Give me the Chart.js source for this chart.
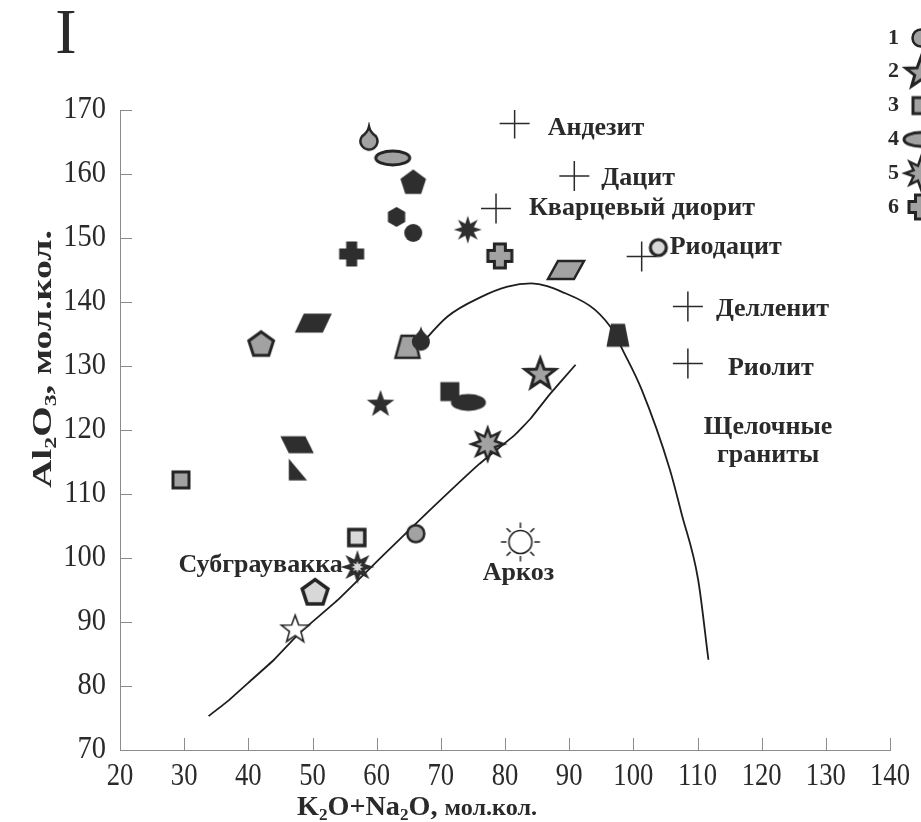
<!DOCTYPE html>
<html>
<head>
<meta charset="utf-8">
<script src="https://cdn.jsdelivr.net/npm/chart.js@4.4.1/dist/chart.umd.min.js"></script>
<style>
  html, body { margin: 0; padding: 0; background: #fff; }
  #wrap { width: 921px; height: 822px; position: relative; }
</style>
</head>
<body>
<div id="wrap"><canvas id="chart"></canvas></div>
<script>
// axis ticks
const xTicks = [20, 30, 40, 50, 60, 70, 80, 90, 100, 110, 120, 130, 140];
const yTicks = [70, 80, 90, 100, 110, 120, 130, 140, 150, 160, 170];

// lower boundary line (subgraywacke - arkose)
const lowerX = [33.8, 37, 40, 44, 48, 54, 61, 68, 76, 81.5, 84, 87, 91];
const lowerY = [75.3, 77.8, 80.5, 84.1, 88.3, 93.5, 100.4, 107.2, 114.7, 119.2, 121.8, 125.6, 130.2];

// upper hump line
const humpX = [66.4, 71, 76.3, 80.4, 84.1, 89.3, 94, 97.1, 98.1, 101.3, 105.7, 107.5, 110.1, 111.7];
const humpY = [132.8, 137.7, 140.8, 142.4, 142.9, 141.4, 138.8, 135.1, 133, 126.3, 113.8, 107, 96.6, 84.1];

// reference rocks (+)
const rockNames = ['Андезит', 'Дацит', 'Кварцевый диорит', 'Риодацит', 'Делленит', 'Риолит'];
const rockX = [81.5, 90.8, 78.6, 101.3, 108.5, 108.5];
const rockY = [167.9, 159.7, 154.6, 147.1, 139.3, 130.4];

// samples
const sampleX = [58.8, 62.5, 65.7, 63.1, 65.7, 56.1, 74.2, 79.2, 89.5, 103.9, 50.2, 42.0, 64.8, 66.9, 97.6,
                 85.5, 71.4, 74.3, 60.6, 77.3, 47.6, 47.6, 29.5, 56.9, 66.1, 57.0, 50.4, 47.3, 82.4];
const sampleY = [165.6, 162.5, 158.8, 153.3, 150.8, 147.5, 151.3, 147.2, 145.0, 148.5, 136.7, 133.5, 133.0, 134.3, 134.8,
                 128.9, 126.0, 124.3, 124.2, 117.8, 117.7, 113.8, 112.2, 103.2, 103.8, 98.6, 94.7, 89.0, 102.5];

// field names
const fieldNames = ['Субграувакка', 'Аркоз', 'Щелочные', 'граниты'];
const fieldX = [29.1, 82.1, 121.0, 121.0];
const fieldY = [98.9, 97.6, 120.5, 116.1];

const legendNums = ['1', '2', '3', '4', '5', '6'];

// ---- styles ----
const sampleShape = ['dropGray', 'ellipseGray', 'pentBlack', 'hexBlack', 'circleBlack', 'crossBlack', 'star8Black',
  'crossGray', 'paraGray', 'ringLight', 'paraBlack', 'pentGray', 'trapGray', 'dropBlack', 'trapBlack',
  'star5Gray', 'squareBlack', 'ellipseBlack', 'star5Black', 'star8Gray', 'paraBlackR', 'triBlack',
  'squareGray', 'squareLight', 'circleGray', 'star8BlackC', 'pentLight', 'star5White', 'sun'];
const legendShape = ['circleGray', 'star5Gray', 'squareGray', 'ellipseGray', 'star8Gray', 'crossGray'];
const rockLabelDx = [33, 27, 33, 28, 28, 40];
const rockLabelDy = [5, 2, 0, -9, 3, 5];
const fieldAlign = ['left', 'center', 'center', 'center'];

const DARK = '#2e2e2e', GRAY = '#a2a2a2', LIGHT = '#d8d8d8', EDGE = '#242424', INK = '#2a2a2a';
const SERIF = '"Liberation Serif", "Times New Roman", serif';

function makeIcon(w, h, draw) {
  const c = document.createElement('canvas');
  c.width = w; c.height = h;
  const g = c.getContext('2d');
  g.translate(w / 2, h / 2);
  draw(g);
  return c;
}
function paint(g, fill, lw) {
  g.fillStyle = fill;
  g.fill();
  if (lw) { g.lineWidth = lw; g.strokeStyle = EDGE; g.lineJoin = 'miter'; g.stroke(); }
}
function poly(g, pts) {
  g.beginPath();
  pts.forEach((p, i) => i ? g.lineTo(p[0], p[1]) : g.moveTo(p[0], p[1]));
  g.closePath();
}
function ngon(n, r, dy) {
  const pts = [];
  for (let i = 0; i < n; i++) {
    const a = -Math.PI / 2 + i * 2 * Math.PI / n;
    pts.push([r * Math.cos(a), r * Math.sin(a) + dy]);
  }
  return pts;
}
function starPts(n, ro, ri, dy) {
  const pts = [];
  for (let i = 0; i < 2 * n; i++) {
    const a = -Math.PI / 2 + i * Math.PI / n;
    const r = i % 2 ? ri : ro;
    pts.push([r * Math.cos(a), r * Math.sin(a) + dy]);
  }
  return pts;
}
function drop(g, r) {
  const cy = r * 0.35, tip = -r * 1.35;
  const t = -35 * Math.PI / 180;
  g.beginPath();
  g.moveTo(0, tip);
  g.quadraticCurveTo(r * 0.15, tip * 0.5, r * Math.cos(t), cy + r * Math.sin(t));
  g.arc(0, cy, r, t, Math.PI - t);
  g.quadraticCurveTo(-r * 0.15, tip * 0.5, 0, tip);
  g.closePath();
}
function crossPath(g, len, arm) {
  const a = arm / 2, l = len / 2;
  poly(g, [[-a, -l], [a, -l], [a, -a], [l, -a], [l, a], [a, a], [a, l], [-a, l], [-a, a], [-l, a], [-l, -a], [-a, -a]]);
}

const icons = {
  dropGray: makeIcon(30, 32, g => { drop(g, 8.5); paint(g, GRAY, 2.5); }),
  dropBlack: makeIcon(30, 32, g => { drop(g, 9); paint(g, DARK); }),
  ellipseGray: makeIcon(44, 24, g => { g.beginPath(); g.ellipse(0, 0, 17, 7, 0, 0, 2 * Math.PI); paint(g, GRAY, 3); }),
  ellipseBlack: makeIcon(42, 24, g => { g.beginPath(); g.ellipse(0, 0, 17.5, 8.5, 0, 0, 2 * Math.PI); paint(g, DARK); }),
  pentBlack: makeIcon(32, 32, g => { poly(g, ngon(5, 13.5, 1.3)); paint(g, DARK); }),
  pentGray: makeIcon(34, 34, g => { poly(g, ngon(5, 13, 1.2)); paint(g, GRAY, 3); }),
  pentLight: makeIcon(36, 36, g => { poly(g, ngon(5, 13.5, 1.2)); paint(g, LIGHT, 3.5); }),
  hexBlack: makeIcon(26, 26, g => { poly(g, ngon(6, 10, 0)); paint(g, DARK); }),
  circleBlack: makeIcon(24, 24, g => { g.beginPath(); g.arc(0, 0, 9, 0, 2 * Math.PI); paint(g, DARK); }),
  circleGray: makeIcon(26, 26, g => { g.beginPath(); g.arc(0, 0, 8.5, 0, 2 * Math.PI); paint(g, GRAY, 2.5); }),
  ringLight: makeIcon(26, 26, g => { g.beginPath(); g.arc(0, 0, 8, 0, 2 * Math.PI); paint(g, LIGHT, 3.2); }),
  crossBlack: makeIcon(30, 30, g => { crossPath(g, 25, 11); paint(g, DARK); }),
  crossGray: makeIcon(32, 32, g => { crossPath(g, 24, 11); paint(g, GRAY, 3); }),
  squareBlack: makeIcon(24, 24, g => { poly(g, [[-9.5, -9.5], [9.5, -9.5], [9.5, 9.5], [-9.5, 9.5]]); paint(g, DARK); }),
  squareGray: makeIcon(24, 24, g => { poly(g, [[-8, -8], [8, -8], [8, 8], [-8, 8]]); paint(g, GRAY, 3); }),
  squareLight: makeIcon(26, 26, g => { poly(g, [[-8, -8], [8, -8], [8, 8], [-8, 8]]); paint(g, LIGHT, 3.5); }),
  paraGray: makeIcon(46, 28, g => { poly(g, [[-8, -9], [18, -9], [8, 9], [-18, 9]]); paint(g, GRAY, 2.5); }),
  paraBlack: makeIcon(46, 26, g => { poly(g, [[-10, -9.5], [18, -9.5], [9, 9.5], [-19, 9.5]]); paint(g, DARK); }),
  paraBlackR: makeIcon(40, 24, g => { poly(g, [[-16.7, -8.6], [8.3, -8.6], [16.7, 8.6], [-8.3, 8.6]]); paint(g, DARK); }),
  triBlack: makeIcon(26, 28, g => { poly(g, [[-8.3, -11], [-8.3, 10.7], [10, 10.7]]); paint(g, DARK); }),
  trapGray: makeIcon(32, 30, g => { poly(g, [[-6, -11], [7, -11], [12, 11], [-12, 11]]); paint(g, GRAY, 2.5); }),
  trapBlack: makeIcon(30, 30, g => { poly(g, [[-7, -11.5], [7, -11.5], [11.5, 11.5], [-11.5, 11.5]]); paint(g, DARK); }),
  star5Gray: makeIcon(40, 40, g => { poly(g, starPts(5, 16, 6.6, 1.4)); paint(g, GRAY, 3); }),
  star5Black: makeIcon(34, 34, g => { poly(g, starPts(5, 14.5, 5.8, 1.3)); paint(g, DARK); }),
  star5White: makeIcon(36, 36, g => { poly(g, starPts(5, 14.5, 6, 1.3)); paint(g, '#ffffff', 1.6); }),
  star8Black: makeIcon(34, 34, g => { poly(g, starPts(8, 14, 6.5, 0)); paint(g, DARK); }),
  star8Gray: makeIcon(40, 40, g => { poly(g, starPts(8, 16, 8, 0)); paint(g, GRAY, 2.5); }),
  star8BlackC: makeIcon(40, 40, g => {
    poly(g, starPts(8, 17, 8, 0)); paint(g, DARK);
    poly(g, starPts(8, 6, 3, 0)); paint(g, LIGHT);
  }),
  sun: makeIcon(44, 44, g => {
    g.strokeStyle = EDGE; g.lineWidth = 1.5;
    g.beginPath();
    for (let i = 0; i < 8; i++) {
      const a = i * Math.PI / 4;
      g.moveTo(14 * Math.cos(a), 14 * Math.sin(a));
      g.lineTo(19.5 * Math.cos(a), 19.5 * Math.sin(a));
    }
    g.stroke();
    g.beginPath(); g.arc(0, 0, 11.5, 0, 2 * Math.PI); paint(g, '#ffffff', 1.6);
  })
};

function pts(xs, ys) { return xs.map((v, i) => ({ x: v, y: ys[i] })); }

function richText(ctx, parts, x, y, targetLen, rot) {
  ctx.save();
  ctx.translate(x, y);
  if (rot) ctx.rotate(rot);
  let total = 0;
  parts.forEach(p => { ctx.font = p.font; p.w = ctx.measureText(p.t).width; total += p.w; });
  ctx.scale(targetLen / total, 1);
  ctx.textAlign = 'left';
  ctx.textBaseline = 'alphabetic';
  let cx = 0;
  parts.forEach(p => { ctx.font = p.font; ctx.fillText(p.t, cx, p.dy || 0); cx += p.w; });
  ctx.restore();
}
function squeezed(ctx, text, x, y, sx, align) {
  ctx.save();
  ctx.translate(x, y);
  ctx.scale(sx, 1);
  ctx.textAlign = align;
  ctx.fillText(text, 0, 0);
  ctx.restore();
}

const decor = {
  id: 'decor',
  afterDraw(chart) {
    const { ctx, chartArea: a, scales: { x, y } } = chart;
    ctx.save();
    // inward tick marks
    ctx.strokeStyle = '#8c8c8c';
    ctx.lineWidth = 1;
    ctx.beginPath();
    xTicks.forEach(v => {
      const px = Math.round(x.getPixelForValue(v)) + 0.5;
      ctx.moveTo(px, a.bottom); ctx.lineTo(px, a.bottom - 12);
    });
    yTicks.forEach(v => {
      const py = Math.round(y.getPixelForValue(v)) + 0.5;
      ctx.moveTo(a.left, py); ctx.lineTo(a.left + 12, py);
    });
    ctx.stroke();

    // tick labels
    ctx.fillStyle = INK;
    ctx.font = '31px ' + SERIF;
    ctx.textBaseline = 'middle';
    xTicks.forEach(v => squeezed(ctx, String(v), x.getPixelForValue(v), a.bottom + 27, 0.86, 'center'));
    yTicks.forEach(v => squeezed(ctx, String(v), a.left - 14, y.getPixelForValue(v), 0.92, 'right'));

    // axis titles
    const big = 'bold 28px ' + SERIF, sub = 'bold 17px ' + SERIF;
    richText(ctx, [
      { t: 'K', font: big }, { t: '2', font: sub, dy: 5 }, { t: 'O+Na', font: big }, { t: '2', font: sub, dy: 5 },
      { t: 'O, ', font: big }, { t: 'мол.кол.', font: 'bold 24px ' + SERIF }
    ], 297, 815, 240, 0);
    richText(ctx, [
      { t: 'Al', font: big }, { t: '2', font: sub, dy: 5 }, { t: 'O', font: big }, { t: '3', font: sub, dy: 5 },
      { t: ', ', font: big }, { t: 'мол.кол.', font: 'bold 27px ' + SERIF }
    ], 51, 488, 258, -Math.PI / 2);

    // panel mark
    ctx.font = '64px ' + SERIF;
    ctx.textAlign = 'center';
    ctx.textBaseline = 'alphabetic';
    ctx.fillText('I', 66, 53);

    // rock and field names
    ctx.font = 'bold 26px ' + SERIF;
    ctx.textBaseline = 'middle';
    ctx.textAlign = 'left';
    rockNames.forEach((n, i) => {
      ctx.fillText(n, x.getPixelForValue(rockX[i]) + rockLabelDx[i], y.getPixelForValue(rockY[i]) + rockLabelDy[i]);
    });
    fieldNames.forEach((n, i) => {
      ctx.textAlign = fieldAlign[i];
      ctx.fillText(n, x.getPixelForValue(fieldX[i]), y.getPixelForValue(fieldY[i]));
    });

    // legend (clipped at right edge)
    ctx.font = 'bold 22px ' + SERIF;
    ctx.textAlign = 'left';
    legendNums.forEach((n, i) => {
      const cy = 38 + i * 33.8;
      ctx.fillText(n, 888, cy);
      const ic = icons[legendShape[i]];
      ctx.drawImage(ic, 921 - ic.width / 2, cy - ic.height / 2);
    });
    ctx.restore();
  }
};

new Chart(document.getElementById('chart'), {
  type: 'scatter',
  data: {
    datasets: [
      {
        label: 'samples',
        data: pts(sampleX, sampleY),
        pointStyle: sampleShape.map(k => icons[k]),
        pointRadius: 10
      },
      {
        label: 'rocks',
        data: pts(rockX, rockY),
        pointStyle: 'cross',
        pointRadius: 15,
        borderColor: INK,
        borderWidth: 1.5
      },
      {
        label: 'lower',
        data: pts(lowerX, lowerY),
        showLine: true,
        pointRadius: 0,
        borderColor: '#1e1e1e',
        borderWidth: 1.8,
        tension: 0.1
      },
      {
        label: 'hump',
        data: pts(humpX, humpY),
        showLine: true,
        pointRadius: 0,
        borderColor: '#1e1e1e',
        borderWidth: 1.8,
        cubicInterpolationMode: 'monotone'
      }
    ]
  },
  options: {
    responsive: true,
    maintainAspectRatio: false,
    animation: false,
    events: [],
    layout: { padding: { top: 110, right: 31, left: 0, bottom: 0 } },
    plugins: { legend: { display: false }, tooltip: { enabled: false } },
    scales: {
      x: {
        type: 'linear',
        min: xTicks[0], max: xTicks[xTicks.length - 1],
        ticks: { display: false, stepSize: 10 },
        grid: { display: false },
        border: { color: '#8c8c8c', width: 1 },
        afterFit: s => { s.height = 72; }
      },
      y: {
        type: 'linear',
        min: yTicks[0], max: yTicks[yTicks.length - 1],
        ticks: { display: false, stepSize: 10 },
        grid: { display: false },
        border: { color: '#8c8c8c', width: 1 },
        afterFit: s => { s.width = 120; }
      }
    }
  },
  plugins: [decor]
});
</script>
</body>
</html>
